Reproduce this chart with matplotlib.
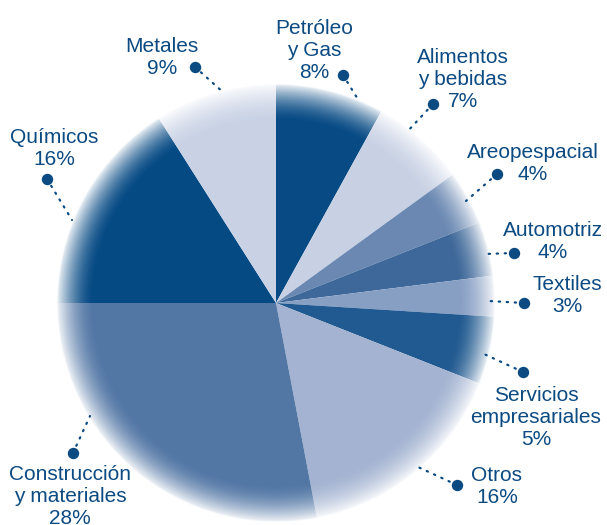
import matplotlib.pyplot as plt
import numpy as np

plt.rcParams['font.family'] = ['Liberation Sans', 'DejaVu Sans']

# data
sectors = ["Petróleo\ny Gas", "Alimentos\ny bebidas", "Areopespacial", "Automotriz",
           "Textiles", "Servicios\nempresariales", "Otros", "Construcción\ny materiales",
           "Químicos", "Metales"]
shares = [8, 7, 4, 4, 3, 5, 16, 28, 16, 9]

# styles
colors = ["#074a84", "#c8d1e4", "#6a88b2", "#3e6899", "#889fc4",
          "#215a90", "#a3b3d1", "#5377a5", "#064a84", "#c9d2e5"]
text_color = "#0c4a82"

# layout, in pixels from the top left corner (label y = baseline of the last line)
W, H = 607, 525
center_px = (276, 303)
label_pos = [(314, 78), (463, 107), (533, 180), (553, 258), (567, 312),
             (536, 445), (497, 503), (70, 524), (54, 165), (162, 74)]
dot_pos = [(343, 75), (433, 104), (497, 174), (514, 253), (524, 303),
           (523, 372), (457, 485), (73, 453), (47, 179), (195, 67)]
line_end = [(359, 101), (406, 133), (466, 201), (485, 254), (489, 301),
            (484, 354), (418, 467), (90, 416), (72, 220), (224, 93)]


def px(x, y):
    return x, H - y


fig = plt.figure(figsize=(W / 100, H / 100), dpi=100)
ax = fig.add_axes([0, 0, 1, 1])

cx, cy = px(*center_px)
ax.pie(shares, colors=colors, startangle=90, counterclock=False,
       center=(cx, cy), radius=220, wedgeprops=dict(linewidth=0))

# white fade toward the rim of the pie
R = 230
n = 920
xs = np.linspace(cx - R, cx + R, n)
ys = np.linspace(cy - R, cy + R, n)
gx, gy = np.meshgrid(xs, ys)
rr = np.hypot(gx - cx, gy - cy)
t = np.clip((rr - 182) / 36.0, 0, 1)
alpha = 0.88 * t ** 1.7
alpha = np.where(rr > 218, np.clip(0.88 + (rr - 218) * 0.12, 0, 1), alpha)
fade = np.ones((n, n, 4))
fade[..., 3] = alpha
ax.imshow(fade, extent=(cx - R, cx + R, cy - R, cy + R), origin='lower',
          zorder=3, interpolation='bilinear')

for name, share, lp, dp, le in zip(sectors, shares, label_pos, dot_pos, line_end):
    tx, ty = px(*lp)
    ax.text(tx, ty, f"{name}\n{share}%", ha='center', va='baseline',
            fontsize=15, color=text_color, linespacing=1.2, zorder=5)
    dx, dy = px(*dp)
    ex, ey = px(*le)
    ax.plot([dx, ex], [dy, ey], color=text_color, lw=1.6,
            linestyle=(0, (0.6, 3.0)), dash_capstyle='round', zorder=5)
    ax.plot(dx, dy, 'o', color=text_color, markersize=7.2, zorder=6)

ax.set_xlim(0, W)
ax.set_ylim(0, H)
ax.set_aspect('auto')
ax.axis('off')

fig.savefig("out.png", dpi=100, facecolor='white')
